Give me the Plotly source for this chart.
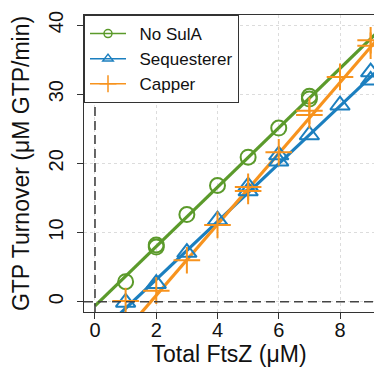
import plotly.graph_objects as go

# ---- data ----
series_names = ["No SulA", "Sequesterer", "Capper"]
series_colors = ["#5b9a2b", "#1b7fbf", "#f7931e"]
series_symbols = ["circle-open", "triangle-up-open", "cross-thin-open"]

nosula_x = [1, 2, 2, 3, 4, 5, 6, 7, 7]
nosula_y = [2.9, 7.9, 8.2, 12.6, 16.8, 20.9, 25.1, 29.3, 29.7]

seq_x = [1, 2, 3, 4, 5, 5, 6, 6, 7, 8, 9, 9]
seq_y = [-0.1, 2.6, 7.1, 11.8, 16.0, 16.7, 20.3, 21.2, 24.1, 28.4, 32.0, 33.2]

cap_x = [1, 2, 3, 4, 5, 5, 6, 7, 7, 8, 9, 9]
cap_y = [0.1, 1.6, 6.0, 11.1, 16.0, 16.6, 21.6, 27.0, 27.6, 32.5, 37.0, 37.8]

# linear fits (slope, intercept) drawn over the data
fit_slope = [4.29, 4.18, 5.13]
fit_intercept = [-0.6, -5.14, -9.35]
fit_x_span = [0, 9.6]

x_ticks = [0, 2, 4, 6, 8]
y_ticks = [0, 10, 20, 30, 40]
x_title = "Total FtsZ (μM)"
y_title = "GTP Turnover (μM GTP/min)"

FONT = "Liberation Sans, Arial, Helvetica, sans-serif"
AX = "#333333"

fig = go.Figure()

data_sets = [(nosula_x, nosula_y), (seq_x, seq_y), (cap_x, cap_y)]
sizes = [15, 17, 19]

# fitted lines
for i, name in enumerate(series_names):
    xs = fit_x_span
    ys = [fit_slope[i] * v + fit_intercept[i] for v in xs]
    fig.add_trace(go.Scatter(x=xs, y=ys, mode="lines",
                             line=dict(color=series_colors[i], width=3.2),
                             showlegend=False, hoverinfo="skip"))

# data markers
for i, name in enumerate(series_names):
    xs, ys = data_sets[i]
    fig.add_trace(go.Scatter(x=xs, y=ys, mode="markers", showlegend=False,
                             marker=dict(symbol=series_symbols[i], size=sizes[i],
                                         color=series_colors[i],
                                         line=dict(color=series_colors[i], width=2))))

# legend-only entries
leg_sizes = [8, 9, 12]
for i, name in enumerate(series_names):
    fig.add_trace(go.Scatter(x=[None], y=[None], mode="lines+markers",
                             name="\u2002" + name,
                             line=dict(color=series_colors[i], width=1.5),
                             marker=dict(symbol=series_symbols[i], size=leg_sizes[i],
                                         color=series_colors[i],
                                         line=dict(color=series_colors[i], width=1.5))))

# dashed reference lines at x=0 and y=0
fig.add_shape(type="line", xref="x", yref="paper", x0=0, x1=0, y0=0, y1=1,
              line=dict(color="#444444", width=1.6, dash="9px,5px"), layer="above")
fig.add_shape(type="line", xref="paper", yref="y", x0=0, x1=1, y0=0, y1=0,
              line=dict(color="#444444", width=1.6, dash="9px,5px"), layer="above")

fig.update_layout(
    width=374, height=367,
    margin=dict(l=84, r=0, t=15, b=55, autoexpand=False),
    paper_bgcolor="white", plot_bgcolor="white",
    font=dict(family=FONT, color="#111111"),
    showlegend=True,
    legend=dict(x=0, y=1, xanchor="left", yanchor="top",
                bgcolor="white", bordercolor=AX, borderwidth=1,
                font=dict(size=17, family=FONT, color="#111111"),
                itemwidth=36, tracegroupgap=0),
    xaxis=dict(range=[-0.359, 9.11], tickvals=x_ticks, ticks="outside", ticklen=6,
               tickcolor=AX, tickwidth=1, showline=True, linecolor=AX, linewidth=1,
               mirror=True, showgrid=True, gridcolor="#dcdcdc", griddash="dot",
               gridwidth=1, zeroline=False, automargin=False,
               tickfont=dict(size=20, family=FONT, color="#111111"),
               ticklabelstandoff=-6,
               title=dict(text=x_title, font=dict(size=23, family=FONT, color="#111111"),
                          standoff=10)),
    yaxis=dict(range=[-1.49, 41.45], tickvals=y_ticks, ticks="outside", ticklen=6,
               tickcolor=AX, tickwidth=1, showline=True, linecolor=AX, linewidth=1,
               mirror=False, showgrid=True, gridcolor="#dcdcdc", griddash="dot",
               gridwidth=1, zeroline=False, automargin=False, tickangle=-90,
               tickfont=dict(size=20, family=FONT, color="#111111"),
               ticklabelstandoff=6,
               title=dict(text=y_title, font=dict(size=23, family=FONT, color="#111111"),
                          standoff=8)),
)

fig.write_html("out.html", config={"displayModeBar": False},
               post_script="document.body.style.margin='0';document.body.style.overflow='hidden';")
